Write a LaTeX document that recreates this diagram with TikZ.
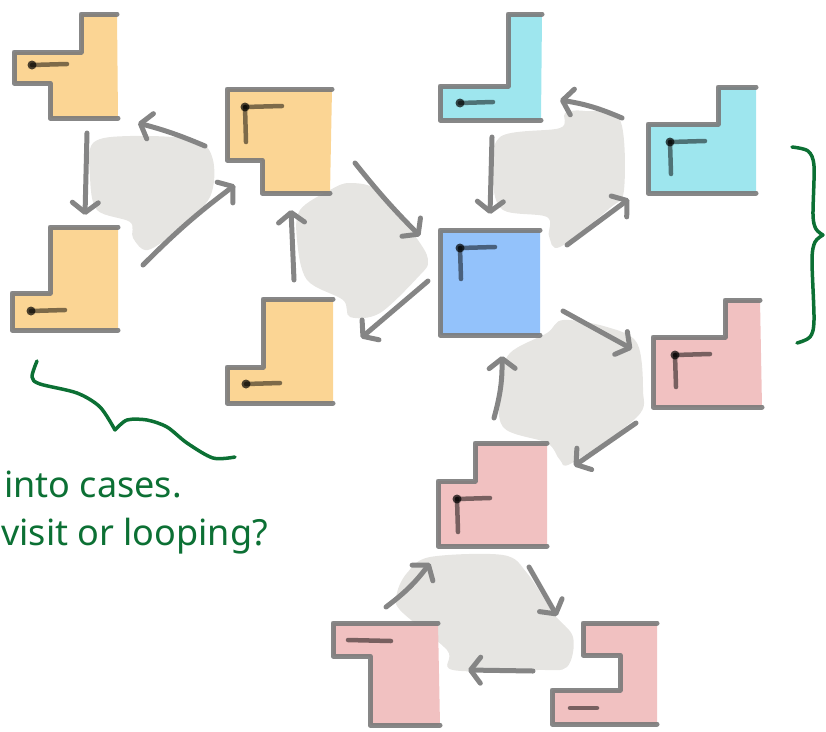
\documentclass[tikz,border=0pt]{standalone}
\usepackage{fontspec}
\newfontfamily\notefont{Noto Sans}
\usetikzlibrary{arrows.meta}

\definecolor{tileorange}{RGB}{251,213,148}
\definecolor{tilecyan}{RGB}{158,230,238}
\definecolor{tileblue}{RGB}{147,194,251}
\definecolor{tilepink}{RGB}{241,193,193}
\definecolor{blobgray}{RGB}{230,229,226}
\definecolor{notegreen}{RGB}{12,112,52}

\tikzset{
    tileline/.style={line width=5pt, draw=black!52, draw opacity=0.9, line cap=round, line join=round},
    tilemark/.style={line width=4.5pt, draw=black, draw opacity=0.5, line cap=round},
    flow/.style={line width=5pt, draw=black!48, line cap=round,
        -{Straight Barb[length=10pt, width=26pt, round]}},
    blob/.style={fill=blobgray},
    notebrace/.style={draw=notegreen, line width=3.5pt, line cap=round, line join=round},
    notetext/.style={text=notegreen, inner sep=0pt, anchor=base west,
        font=\notefont\fontsize{36}{40}\selectfont},
}

% fill of a tile, then its hand-drawn outline (right edge left open)
\newcommand{\tile}[2]{%
    \fill[#1, rounded corners=2pt] #2 -- cycle;
    \draw[tileline] #2;
}

\begin{document}
\begin{tikzpicture}[x=1pt, y=-1pt]
    \useasboundingbox (0,0) rectangle (826,731);

    % gray blobs behind each cycle
    \fill[blob] plot[smooth cycle, tension=0.55] coordinates {(93,143) (130,136) (195,140) (213,160) (210,197) (180,228) (148,250) (133,238) (130,222) (97,210) (90,177)};
    \fill[blob] plot[smooth cycle, tension=0.55] coordinates {(300,210) (330,190) (350,183) (380,192) (420,243) (428,262) (420,275) (380,313) (350,317) (343,300) (307,280) (297,240)};
    \fill[blob] plot[smooth cycle, tension=0.55] coordinates {(500,137) (560,128) (565,113) (585,111) (620,120) (624,190) (610,208) (560,247) (549,236) (547,217) (503,210) (493,180)};
    \fill[blob] plot[smooth cycle, tension=0.55] coordinates {(563,320) (547,333) (510,353) (500,383) (503,427) (547,443) (560,460) (572,463) (637,417) (643,390) (637,343) (607,327)};
    \fill[blob] plot[smooth cycle, tension=0.55] coordinates {(430,557) (503,555) (527,573) (553,613) (573,637) (567,667) (537,670) (453,670) (447,650) (400,610) (397,593) (407,573)};

    % tiles: orange
    \tile{tileorange}{(117,14) -- (81,14) -- (81,52) -- (14,52) -- (14,83) -- (50,83) -- (50,118) -- (118,118)}
    \tile{tileorange}{(118,227) -- (50,227) -- (50,293) -- (12,293) -- (12,330) -- (118,330)}
    \tile{tileorange}{(332,89) -- (227,89) -- (227,160) -- (262,160) -- (262,193) -- (330,193)}
    \tile{tileorange}{(333,299) -- (263,299) -- (263,367) -- (227,367) -- (227,403) -- (333,403)}
    % tiles: cyan and blue
    \tile{tilecyan}{(542,14) -- (508,14) -- (508,86) -- (440,86) -- (440,120) -- (541,120)}
    \tile{tilecyan}{(756,87) -- (718,87) -- (718,124) -- (648,124) -- (648,193) -- (756,193)}
    \tile{tileblue}{(540,230) -- (440,230) -- (440,335) -- (540,335)}
    % tiles: pink
    \tile{tilepink}{(760,300) -- (725,300) -- (725,337) -- (653,337) -- (653,407) -- (762,407)}
    \tile{tilepink}{(547,443) -- (475,443) -- (475,481) -- (438,481) -- (438,546) -- (547,546)}
    \tile{tilepink}{(438,623) -- (333,623) -- (333,656) -- (370,656) -- (370,725) -- (440,725)}
    \tile{tilepink}{(657,623) -- (583,623) -- (583,655) -- (620,655) -- (620,690) -- (552,690) -- (552,724) -- (657,724)}

    % corner marks inside the tiles
    \foreach \x/\y/\dx/\dy in {32/65/35/0, 31/311/34/0, 245/107/37/35, 246/384/34/0,
                               460/103/33/0, 670/142/35/32, 460/248/35/31,
                               675/355/35/32, 457/499/33/33} {
        \fill[black, opacity=0.7] (\x,\y) circle (4.5pt);
        \draw[tilemark] (\x,\y) -- ++(\dx,-1);
        \ifnum\dy>0
            \draw[tilemark] (\x,\y) -- ++(1,\dy);
        \fi
    }
    \draw[tilemark] (348,640) -- (391,641);
    \draw[tilemark] (570,708) -- (597,708);

    % arrow end points
    \foreach \n/\x/\y in {ab/87/133, ba/85/215, ca/205/146, ac/138/123, bc/143/265, cb/235/185,
                          dc/294/280, cd/291/210, cg/355/163, gc/420/236, gd/428/281, dg/361/338,
                          eg/492/137, ge/490/214, gf/567/245, fg/629/199, fe/622/118, ef/560/100,
                          gh/563/311, hg/632/349, hi/636/423, ih/574/466, ig/494/418, gi/502/356,
                          ji/386/607, ij/430/563, ik/529/567, ki/557/616, kj/533/671, jk/468/670} {
        \coordinate (\n) at (\x,\y);
    }

    % the moves between tiles
    \foreach \from/\to/\bend in {ab/ba/0, ca/ac/-4, bc/cb/4, dc/cd/0, cg/gc/-3, gd/dg/0,
                                 eg/ge/0, gf/fg/0, fe/ef/-7, gh/hg/0, hi/ih/0, ig/gi/-8,
                                 ji/ij/-8, ik/ki/0, kj/jk/0} {
        \draw[flow] (\from) to[bend left=\bend] (\to);
    }

    % green notes
    \draw[notebrace] plot[smooth, tension=0.5] coordinates {(792,147) (808,151) (814,166) (813,215) (816,229) (823,235)};
    \draw[notebrace] plot[smooth, tension=0.5] coordinates {(823,235) (815,242) (812,260) (814,320) (810,337) (797,343)};
    \draw[notebrace] plot[smooth, tension=0.5] coordinates {(37,361) (32,377) (40,384) (77,393) (100,407) (115,430)};
    \draw[notebrace] plot[smooth, tension=0.5] coordinates {(115,430) (127,420) (147,420) (167,427) (187,443) (213,458) (235,457)};

    \node[notetext] (cases) at (4,497) {into cases.};
    \node[notetext] (loop) at (1,545) {visit or looping?};
\end{tikzpicture}
\end{document}
